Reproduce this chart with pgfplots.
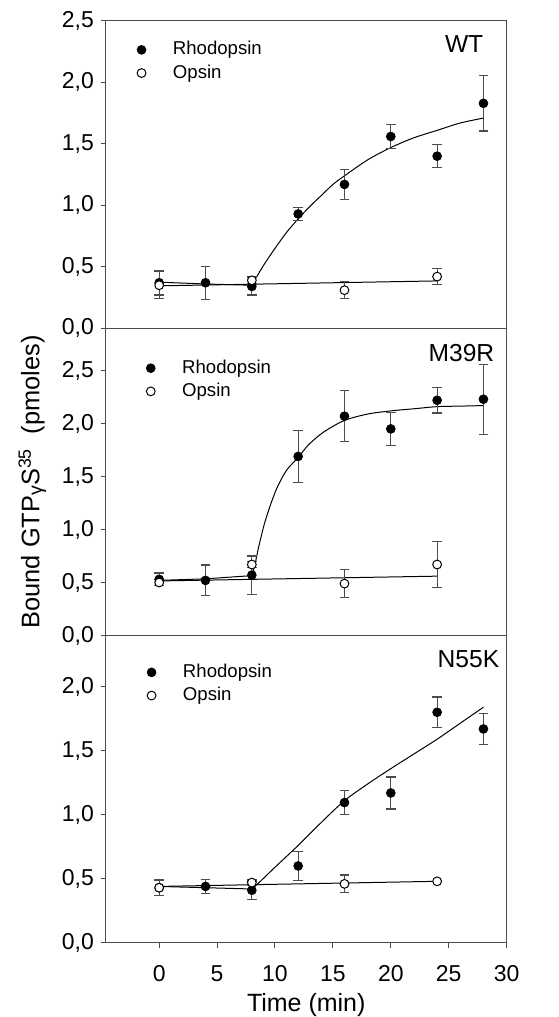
\documentclass[border=0pt]{standalone}
\usepackage{fontspec}
\setmainfont{Liberation Sans}
\usepackage{pgfplots}
\usepackage{pgfplotstable}
\pgfplotsset{compat=1.18}
\usepgfplotslibrary{groupplots}

% WT
\pgfplotstableread{
x y e
0 0.37 0.10
4 0.37 0.135
8 0.34 0.07
12 0.93 0.055
16 1.17 0.12
20 1.56 0.10
24 1.40 0.095
28 1.83 0.225
}\wtrho
\pgfplotstableread{
x y e
0 0.35 0.11
8 0.39 0.03
16 0.31 0.07
24 0.42 0.065
}\wtops
% M39R
\pgfplotstableread{
x y e
0 0.53 0.06
4 0.52 0.145
8 0.57 0.18
12 1.69 0.245
16 2.07 0.24
20 1.95 0.155
24 2.22 0.12
28 2.23 0.33
}\mrho
\pgfplotstableread{
x y e
0 0.50 0.03
8 0.67 0.03
16 0.49 0.13
24 0.67 0.22
}\mops
% N55K
\pgfplotstableread{
x y e
0 0.43 0.06
4 0.44 0.055
8 0.41 0.07
12 0.60 0.115
16 1.095 0.095
20 1.17 0.125
24 1.80 0.12
28 1.67 0.12
}\nrho
\pgfplotstableread{
x y e
0 0.43 0.06
8 0.47 0.02
16 0.46 0.07
24 0.48 0.0
}\nops

\pgfplotsset{
  errs/.style={error bars/.cd, y dir=both, y explicit,
    error bar style={line width=0.6pt, black!70},
    error mark options={rotate=90, mark size=2.4pt, line width=0.6pt, black!70}},
  rho/.style={only marks, mark=*, mark size=2.2pt, black, mark options={fill=black}, errs},
  ops/.style={only marks, mark=*, mark size=2.2pt, black, mark options={fill=white, draw=black, line width=0.5pt}, errs},
  fit/.style={black, line width=0.5pt, no markers, forget plot},
}
\tikzset{tag/.style={anchor=north east, inner sep=0pt, font=\fontsize{12.3}{12.3}\selectfont}}

\begin{document}
\begin{tikzpicture}
\begin{groupplot}[
  group style={group size=1 by 3, vertical sep=0pt},
  width=200.5pt, height=153.75pt, scale only axis,
  xmin=-4.6, xmax=30, ymin=0,
  axis line style={black!70, line width=0.5pt},
  tick style={black!70, line width=0.5pt},
  tick align=outside, major tick length=2.5pt,
  ytick pos=left, xtick pos=bottom,
  /pgf/number format/assume math mode=true,
  yticklabel style={/pgf/number format/.cd, fixed, fixed zerofill, precision=1, use comma},
  ticklabel style={font=\fontsize{11.5}{11.5}\selectfont},
  legend style={draw=none, fill=none, anchor=north west,
    font=\fontsize{9.3}{9.3}\selectfont, row sep=0pt, legend cell align=left,
    nodes={inner sep=1.5pt, text height=6.8pt, text depth=1.8pt}},
  legend image code/.code={\draw[#1] plot coordinates {(0cm,0cm)}; \path[draw=none] (0.5cm,0) coordinate (li);},
]
\nextgroupplot[ymax=2.5, ytick={0,0.5,...,2.5}, xtick=\empty,
  legend style={at={(0.062,0.958)}}]
\addplot[fit] coordinates {(0,0.375) (4,0.36) (8,0.35)};
\addplot[fit, smooth] coordinates {(8,0.35) (9,0.51) (10,0.65) (11,0.78) (12,0.89) (13,0.99) (14,1.08) (15,1.17) (16,1.24) (18,1.37) (20,1.47) (22,1.55) (24,1.61) (26,1.67) (28,1.71)};
\addplot[fit] coordinates {(0,0.345) (24,0.385)};
\addplot[rho] table[x=x, y=y, y error=e] {\wtrho};
\addlegendentry{Rhodopsin}
\addplot[ops] table[x=x, y=y, y error=e] {\wtops};
\addlegendentry{Opsin}
\node[tag] at ([xshift=-11.5pt, yshift=-7pt]rel axis cs:1,1) {WT};

\nextgroupplot[ymax=2.9, ytick={0,0.5,...,2.5}, xtick=\empty,
  legend style={at={(0.085,0.922)}},
  ylabel={Bound GTP\raisebox{-0.2ex}{\fontsize{9.8}{9.8}\selectfont γ}S\textsuperscript{35}\ \ (pmoles)},
  ylabel style={font=\fontsize{12.7}{13}\selectfont, yshift=1pt}]
\addplot[fit] coordinates {(0,0.52) (4,0.535) (8,0.565)};
\addplot[fit, smooth] coordinates {(8,0.565) (8.25,0.66) (8.6,0.84) (9.1,1.06) (9.65,1.245) (10.2,1.40) (11,1.56) (12,1.68) (12.9,1.80) (14.2,1.92) (16,2.03) (18,2.09) (20,2.12) (22,2.14) (24,2.16) (26,2.165) (28,2.17)};
\addplot[fit] coordinates {(0,0.515) (24,0.56)};
\addplot[rho] table[x=x, y=y, y error=e] {\mrho};
\addlegendentry{Rhodopsin}
\addplot[ops] table[x=x, y=y, y error=e] {\mops};
\addlegendentry{Opsin}
\node[tag] at ([xshift=-6pt, yshift=-8pt]rel axis cs:1,1) {M39R};

\nextgroupplot[ymax=2.4, ytick={0,0.5,...,2.0}, xtick={0,5,...,30},
  legend style={at={(0.087,0.932)}},
  xlabel={Time (min)}, xlabel style={font=\fontsize{12.5}{12.5}\selectfont, inner sep=0pt, yshift=-2.3pt},
  xticklabel style={yshift=-5.5pt}]
\addplot[fit] coordinates {(0,0.44) (4,0.43) (8,0.42) (8.4,0.45)};
\addplot[fit, smooth] coordinates {(8.4,0.45) (10,0.59) (12,0.76) (14,0.94) (16,1.11) (18,1.24) (20,1.36) (22,1.475) (24,1.59) (26,1.715) (28,1.84)};
\addplot[fit] coordinates {(0,0.44) (24,0.48)};
\addplot[rho] table[x=x, y=y, y error=e] {\nrho};
\addlegendentry{Rhodopsin}
\addplot[ops] table[x=x, y=y, y error=e] {\nops};
\addlegendentry{Opsin}
\node[tag] at ([xshift=-3.5pt, yshift=-7.5pt]rel axis cs:1,1) {N55K};
\end{groupplot}
\path ([xshift=26pt, yshift=-36.5pt]group c1r3.south east);
\path ([xshift=-53pt, yshift=10.5pt]group c1r1.north west);
\end{tikzpicture}
\end{document}
